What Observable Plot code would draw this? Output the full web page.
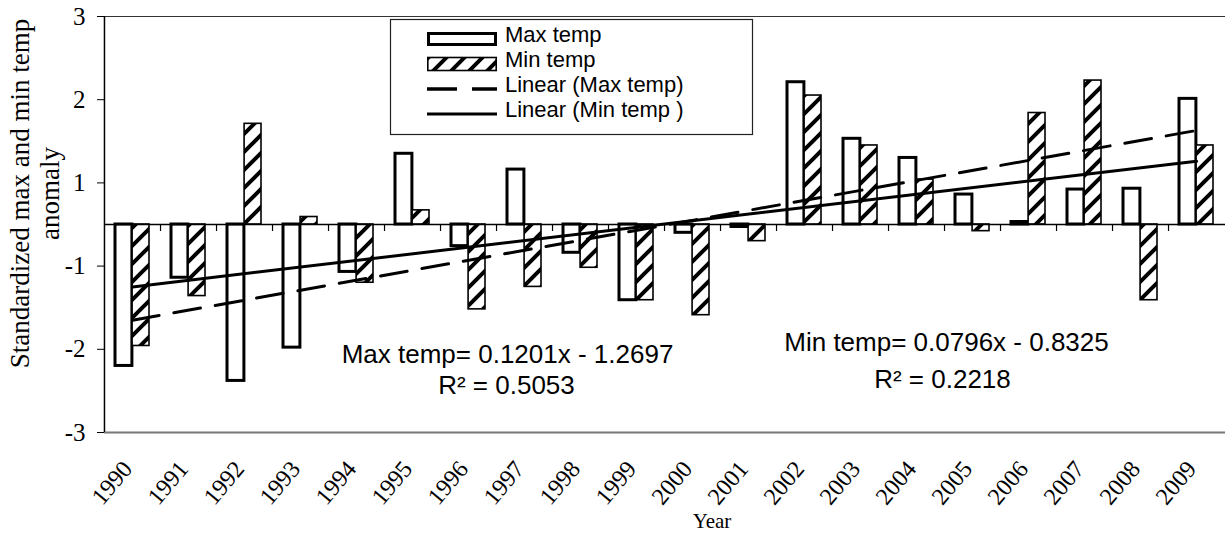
<!DOCTYPE html>
<html>
<head>
<meta charset="utf-8">
<script src="https://cdn.jsdelivr.net/npm/d3@7"></script>
<script src="https://cdn.jsdelivr.net/npm/@observablehq/plot@0.6"></script>
<style>
  body { margin: 0; background: #fff; }
  #chart svg { display: block; }
</style>
</head>
<body>
<div id="chart"></div>
<script>
// ---- data ----
const years = ["1990","1991","1992","1993","1994","1995","1996","1997","1998","1999",
               "2000","2001","2002","2003","2004","2005","2006","2007","2008","2009"];
const maxTemp = [-1.70,-0.64,-1.88,-1.48,-0.57,0.85,-0.26,0.66,-0.34,-0.91,
                 -0.10,-0.03,1.71,1.03,0.80,0.36,0.03,0.42,0.43,1.51];
const minTemp = [-1.46,-0.86,1.21,0.09,-0.70,0.17,-1.02,-0.75,-0.52,-0.91,
                 -1.09,-0.20,1.55,0.95,0.54,-0.08,1.34,1.73,-0.91,0.95];
const trendYears = ["1990","2009"];
const maxTrend = [-1.15, 1.13];
const minTrend = [-0.75, 0.76];
const yTickValues = [2.5, 1.5, 0.5, -0.5, -1.5, -2.5];
const yTickLabels = ["3", "2", "1", "-1", "-2", "-3"];
const seriesNames = ["Max temp", "Min temp", "Linear (Max temp)", "Linear (Min temp )"];
const equationTexts = ["Max temp= 0.1201x - 1.2697", "R\u00B2 = 0.5053",
                       "Min temp= 0.0796x - 0.8325", "R\u00B2 = 0.2218"];
const yTitle = "Standardized max and min temp\nanomaly";
const xTitle = "Year";

// ---- layout ----
const W = 1225, H = 533, mL = 104, mR = 0, mT = 16, mB = 101;
const padInner = 0.39;
const step = (W - mL - mR) / years.length;
const half = step * (1 - padInner) / 2;
const serif = "'Liberation Serif', 'Times New Roman', serif";
const sans = "'Liberation Sans', Arial, sans-serif";

const maxData = years.map((year, i) => ({year, value: maxTemp[i]}));
const minData = years.map((year, i) => ({year, value: minTemp[i]}));
const maxTrendData = trendYears.map((year, i) => ({year, value: maxTrend[i]}));
const minTrendData = trendYears.map((year, i) => ({year, value: minTrend[i]}));

const plot = Plot.plot({
  width: W, height: H,
  marginLeft: mL, marginRight: mR, marginTop: mT, marginBottom: mB,
  style: {background: "white", overflow: "visible"},
  x: {type: "band", domain: years, paddingInner: padInner, paddingOuter: padInner / 2},
  y: {domain: [-2.5, 2.5]},
  marks: [
    // plot-area top and bottom borders
    Plot.ruleY([2.5], {stroke: "#333", strokeWidth: 1.2}),
    Plot.ruleY([-2.5], {stroke: "#777", strokeWidth: 2}),
    // bars
    Plot.barY(maxData, {x: "year", y: "value", fill: "white", stroke: "black",
      strokeWidth: 3, insetRight: half}),
    Plot.barY(minData, {x: "year", y: "value", fill: "url(#hatch)", stroke: "black",
      strokeWidth: 1.6, insetLeft: half}),
    // category axis on zero line
    Plot.ruleY([0], {stroke: "black", strokeWidth: 1.5}),
    Plot.ruleX(years.slice(0, -1), {x: d => d, y1: 0, y2: 0, insetBottom: -7,
      dx: step / 2, stroke: "black", strokeWidth: 1.2}),
    // value axis line
    Plot.ruleX([years[0]], {x: d => d, dx: -step / 2, stroke: "black", strokeWidth: 1.5}),
    // trend lines
    Plot.lineY(maxTrendData, {x: "year", y: "value", stroke: "black", strokeWidth: 3,
      strokeDasharray: "27,15"}),
    Plot.lineY(minTrendData, {x: "year", y: "value", stroke: "black", strokeWidth: 3}),
    // regression annotations
    Plot.text([equationTexts[0]], {x: () => "1997", y: () => -1.56, dx: -17,
      fontFamily: sans, fontSize: 26, fill: "black"}),
    Plot.text([equationTexts[1]], {x: () => "1997", y: () => -1.94, dx: -18,
      fontFamily: sans, fontSize: 26, fill: "black"}),
    Plot.text([equationTexts[2]], {x: () => "2004", y: () => -1.415, dx: 30,
      fontFamily: sans, fontSize: 26, fill: "black"}),
    Plot.text([equationTexts[3]], {x: () => "2004", y: () => -1.87, dx: 26,
      fontFamily: sans, fontSize: 26, fill: "black"}),
    // axes
    Plot.axisY(yTickValues, {tickSize: 7, tickPadding: 12,
      tickFormat: d => yTickLabels[yTickValues.indexOf(d)],
      fontSize: 25, fontFamily: serif, fill: "black", stroke: "black", label: null}),
    Plot.axisX({tickSize: 0, tickRotate: -50, tickPadding: 32, dx: -5,
      fontSize: 24, fontFamily: serif, fill: "black", label: null}),
    Plot.text([yTitle], {frameAnchor: "left", dx: -70, dy: -31, rotate: -90,
      textAnchor: "middle", lineHeight: 1.12, fontSize: 27, fontFamily: serif, fill: "black"}),
    Plot.text([xTitle], {frameAnchor: "bottom", dx: 47, dy: 95,
      fontSize: 21, fontFamily: serif, fill: "black"})
  ]
});

// hatch pattern (wide upward diagonal)
const svg = d3.select(plot);
const defs = svg.insert("defs", ":first-child");
const pat = defs.append("pattern").attr("id", "hatch")
  .attr("patternUnits", "userSpaceOnUse").attr("width", 18).attr("height", 18);
pat.append("rect").attr("width", 18).attr("height", 18).attr("fill", "white");
pat.append("path").attr("d", "M-4.5,4.5 L4.5,-4.5 M0,18 L18,0 M13.5,22.5 L22.5,13.5")
  .attr("stroke", "black").attr("stroke-width", 4);

// legend (inside the plot area, as in the reference)
const lg = svg.append("g").attr("font-family", sans).attr("font-size", 22)
  .attr("fill", "black").attr("text-anchor", "start");
lg.append("rect").attr("x", 390.5).attr("y", 19.5).attr("width", 362).attr("height", 115)
  .attr("fill", "white").attr("stroke", "#222").attr("stroke-width", 1.2);
const rowBase = [42, 67, 92, 117];
const swX = 427, swW = 70;
lg.append("rect").attr("x", swX + 1.5).attr("y", 33.5).attr("width", swW - 3).attr("height", 11)
  .attr("fill", "white").attr("stroke", "black").attr("stroke-width", 3);
lg.append("rect").attr("x", swX + 0.8).attr("y", 57.5).attr("width", swW - 1.6).attr("height", 13)
  .attr("fill", "url(#hatch)").attr("stroke", "black").attr("stroke-width", 1.6);
lg.append("line").attr("x1", swX).attr("x2", swX + swW).attr("y1", 89).attr("y2", 89)
  .attr("stroke", "black").attr("stroke-width", 3.5).attr("stroke-dasharray", "30,15");
lg.append("line").attr("x1", swX).attr("x2", swX + swW).attr("y1", 114).attr("y2", 114)
  .attr("stroke", "black").attr("stroke-width", 3);
seriesNames.forEach((name, i) => {
  lg.append("text").attr("x", 505).attr("y", rowBase[i]).attr("text-anchor", "start").text(name);
});

document.getElementById("chart").append(plot);
</script>
</body>
</html>
